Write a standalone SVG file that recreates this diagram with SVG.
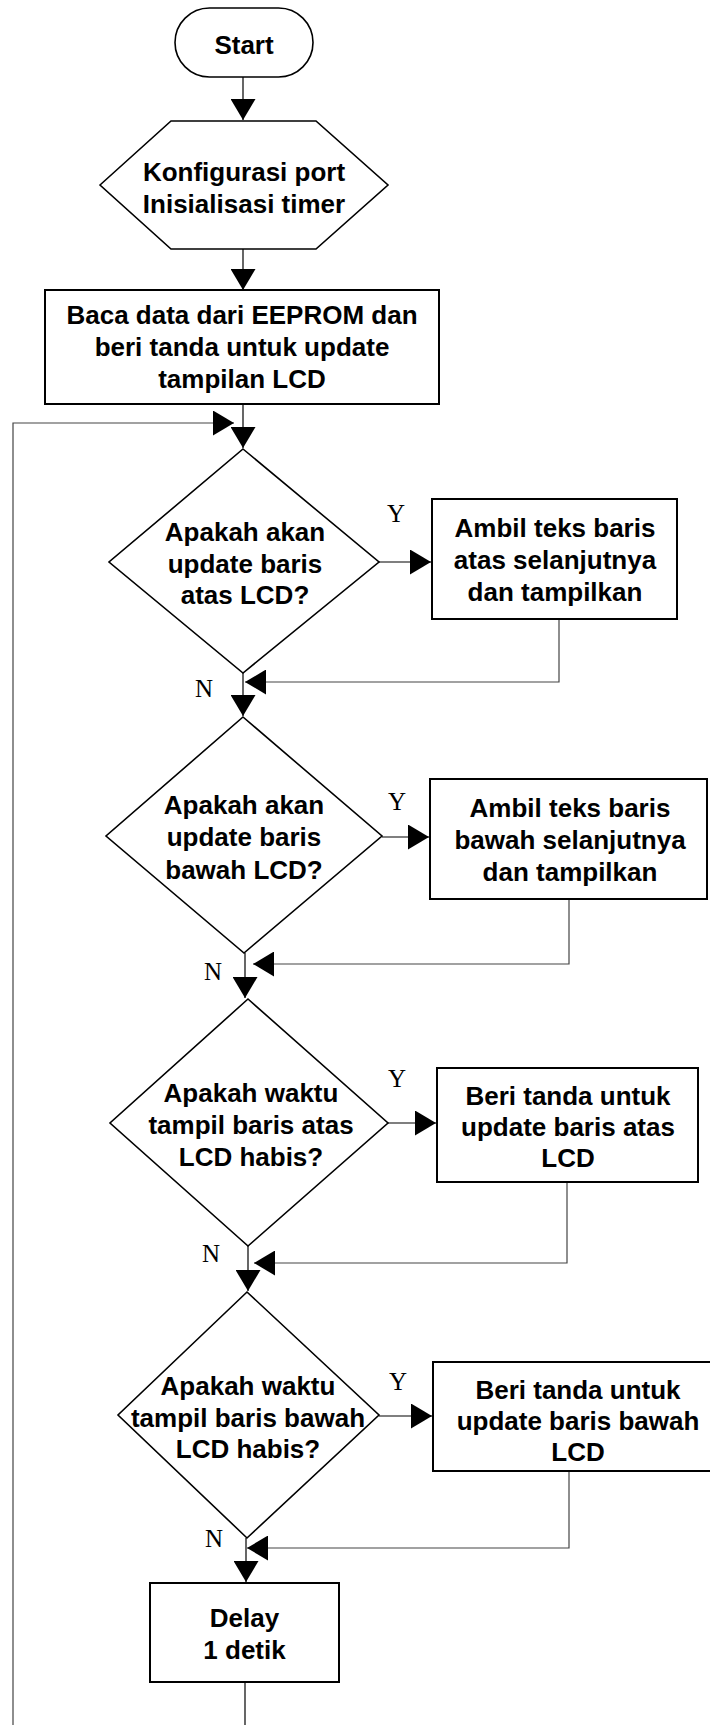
<svg xmlns="http://www.w3.org/2000/svg" width="710" height="1725" viewBox="0 0 710 1725">
<style>
.t{font-family:"Liberation Sans",Arial,sans-serif;font-weight:bold;font-size:26px;fill:#000;text-anchor:middle}
.l{font-family:"Liberation Serif","Times New Roman",serif;font-size:25px;fill:#000;text-anchor:middle}
.box{fill:#fff;stroke:#000;stroke-width:2}
.shp{fill:#fff;stroke:#000;stroke-width:1.6}
.c{fill:none;stroke:#000;stroke-width:1.2}
.r{fill:none;stroke:#444;stroke-width:1.2}
</style>
<defs>
<marker id="ah" viewBox="0 0 21 25" markerWidth="21" markerHeight="25" markerUnits="userSpaceOnUse" refX="21" refY="12.5" orient="auto">
<path d="M0,0 L21,12.5 L0,25 Z" fill="#000"/>
</marker>
</defs>
<rect width="710" height="1725" fill="#fff"/>
<g id="connectors">
<path class="c" d="M243,77 L243,120" marker-end="url(#ah)"/>
<path class="c" d="M243,249 L243,290" marker-end="url(#ah)"/>
<path class="c" d="M243,404 L243,448" marker-end="url(#ah)"/>
<path class="c" d="M243,673 L243,716" marker-end="url(#ah)"/>
<path class="c" d="M245,953 L245,998" marker-end="url(#ah)"/>
<path class="c" d="M248,1246 L248,1291" marker-end="url(#ah)"/>
<path class="c" d="M246,1538 L246,1582" marker-end="url(#ah)"/>
<path class="c" d="M245,1682 L245,1725"/>
<path class="r" d="M13,1725 L13,423 L234,423" marker-end="url(#ah)"/>
<path class="c" d="M379,562 L431,562" marker-end="url(#ah)"/>
<path class="c" d="M382,837 L429,837" marker-end="url(#ah)"/>
<path class="c" d="M388,1123 L436,1123" marker-end="url(#ah)"/>
<path class="c" d="M379,1416 L432,1416" marker-end="url(#ah)"/>
<path class="r" d="M559,619 L559,682 L245,682" marker-end="url(#ah)"/>
<path class="r" d="M569,899 L569,964 L253,964" marker-end="url(#ah)"/>
<path class="r" d="M567,1182 L567,1263 L254,1263" marker-end="url(#ah)"/>
<path class="r" d="M569,1471 L569,1548 L247,1548" marker-end="url(#ah)"/>
<text class="l" x="396" y="522">Y</text>
<text class="l" x="397" y="810">Y</text>
<text class="l" x="397" y="1087">Y</text>
<text class="l" x="398" y="1390">Y</text>
<text class="l" x="204" y="697">N</text>
<text class="l" x="213" y="980">N</text>
<text class="l" x="211" y="1262">N</text>
<text class="l" x="214" y="1547">N</text>
</g>
<g id="start">
<rect class="shp" x="175" y="8" width="138" height="69" rx="34.5" ry="34.5"/>
<text class="t" x="244" y="54">Start</text>
</g>
<g id="init">
<polygon class="shp" points="100,185 171,121 316,121 388,185 316,249 171,249"/>
<text class="t" x="244" y="181">Konfigurasi port</text>
<text class="t" x="244" y="212.5">Inisialisasi timer</text>
</g>
<g id="read-eeprom">
<rect class="box" x="45" y="290" width="394" height="114"/>
<text class="t" x="242" y="324">Baca data dari EEPROM dan</text>
<text class="t" x="242" y="356">beri tanda untuk update</text>
<text class="t" x="242" y="387.5">tampilan LCD</text>
</g>
<g id="dec-top">
<polygon class="shp" points="243,449 379,562 243,673 109,562"/>
<text class="t" x="245" y="541">Apakah akan</text>
<text class="t" x="245" y="573">update baris</text>
<text class="t" x="245" y="604">atas LCD?</text>
</g>
<g id="show-top">
<rect class="box" x="432" y="499" width="245" height="120"/>
<text class="t" x="555" y="537">Ambil teks baris</text>
<text class="t" x="555" y="569">atas selanjutnya</text>
<text class="t" x="555" y="601">dan tampilkan</text>
</g>
<g id="dec-bottom">
<polygon class="shp" points="243,717 382,836 244,953 106,836"/>
<text class="t" x="244" y="814">Apakah akan</text>
<text class="t" x="244" y="846">update baris</text>
<text class="t" x="244" y="879">bawah LCD?</text>
</g>
<g id="show-bottom">
<rect class="box" x="430" y="779" width="277" height="120"/>
<text class="t" x="570" y="817">Ambil teks baris</text>
<text class="t" x="570" y="849">bawah selanjutnya</text>
<text class="t" x="570" y="881">dan tampilkan</text>
</g>
<g id="dec-time-top">
<polygon class="shp" points="248,999 388,1123 248,1246 110,1123"/>
<text class="t" x="251" y="1102">Apakah waktu</text>
<text class="t" x="251" y="1134">tampil baris atas</text>
<text class="t" x="251" y="1166">LCD habis?</text>
</g>
<g id="flag-top">
<rect class="box" x="437" y="1068" width="261" height="114"/>
<text class="t" x="568" y="1105">Beri tanda untuk</text>
<text class="t" x="568" y="1136">update baris atas</text>
<text class="t" x="568" y="1167">LCD</text>
</g>
<g id="dec-time-bottom">
<polygon class="shp" points="247,1292 379,1415 247,1538 118,1415"/>
<text class="t" x="248" y="1395">Apakah waktu</text>
<text class="t" x="248" y="1426.5">tampil baris bawah</text>
<text class="t" x="248" y="1458">LCD habis?</text>
</g>
<g id="flag-bottom">
<rect class="box" x="433" y="1362" width="290" height="109"/>
<text class="t" x="578" y="1399">Beri tanda untuk</text>
<text class="t" x="578" y="1430">update baris bawah</text>
<text class="t" x="578" y="1461">LCD</text>
</g>
<g id="delay">
<rect class="box" x="150" y="1583" width="189" height="99"/>
<text class="t" x="244.5" y="1627">Delay</text>
<text class="t" x="244.5" y="1659">1 detik</text>
</g>
</svg>
